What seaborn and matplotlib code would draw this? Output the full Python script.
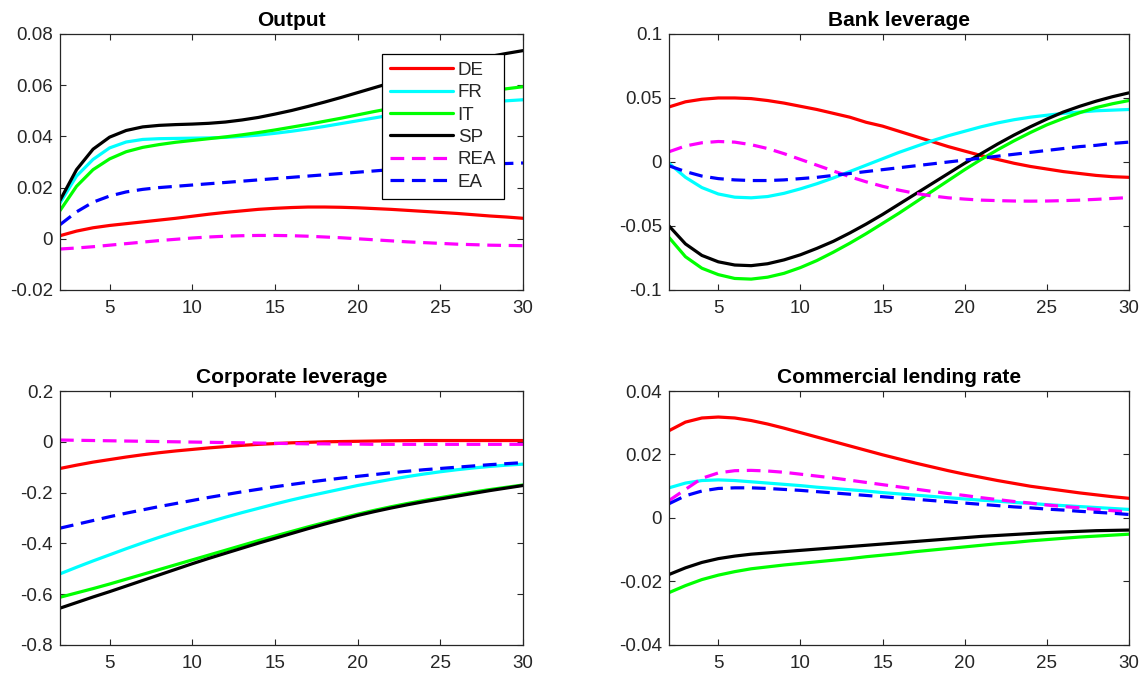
import numpy as np
import matplotlib
matplotlib.use('Agg')
import matplotlib.pyplot as plt
from matplotlib.ticker import FormatStrFormatter
import pandas as pd
import seaborn as sns

sns.set_theme(style='ticks', rc={'xtick.direction': 'in', 'ytick.direction': 'in'})
plt.rcParams['font.family'] = ['Liberation Sans', 'DejaVu Sans']

periods = list(range(2, 31))
countries = ['DE', 'FR', 'IT', 'SP', 'REA', 'EA']
colors = ['#FF0000', '#00FFFF', '#00FF00', '#000000', '#FF00FF', '#0000FF']

# Output
output_de = [0.0012, 0.0030, 0.0043, 0.0052, 0.0059, 0.0066, 0.0073, 0.0080, 0.0088, 0.0096,
             0.0103, 0.0109, 0.0115, 0.0119, 0.0122, 0.0124, 0.0124, 0.0123, 0.0121, 0.0118,
             0.0115, 0.0111, 0.0107, 0.0103, 0.0099, 0.0094, 0.0089, 0.0085, 0.0080]
output_fr = [0.0140, 0.0245, 0.0310, 0.0355, 0.0378, 0.0388, 0.0391, 0.0392, 0.0393, 0.0394,
             0.0396, 0.0400, 0.0405, 0.0412, 0.0420, 0.0429, 0.0439, 0.0450, 0.0461, 0.0472,
             0.0483, 0.0494, 0.0504, 0.0513, 0.0521, 0.0528, 0.0534, 0.0539, 0.0543]
output_it = [0.0110, 0.0205, 0.0270, 0.0312, 0.0340, 0.0357, 0.0368, 0.0377, 0.0384, 0.0391,
             0.0398, 0.0406, 0.0415, 0.0425, 0.0436, 0.0447, 0.0459, 0.0471, 0.0484, 0.0497,
             0.0509, 0.0522, 0.0534, 0.0546, 0.0557, 0.0567, 0.0577, 0.0586, 0.0594]
output_sp = [0.0150, 0.0270, 0.0350, 0.0397, 0.0423, 0.0437, 0.0443, 0.0446, 0.0448, 0.0451,
             0.0456, 0.0464, 0.0474, 0.0487, 0.0501, 0.0517, 0.0534, 0.0552, 0.0571, 0.0590,
             0.0609, 0.0628, 0.0647, 0.0665, 0.0682, 0.0698, 0.0712, 0.0724, 0.0735]
output_rea = [-0.0040, -0.0036, -0.0031, -0.0025, -0.0019, -0.0013, -0.0007, -0.0002, 0.0003, 0.0007,
              0.0010, 0.0012, 0.0013, 0.0013, 0.0012, 0.0010, 0.0007, 0.0004, 0.0000, -0.0004,
              -0.0008, -0.0012, -0.0015, -0.0018, -0.0021, -0.0023, -0.0025, -0.0026, -0.0027]
output_ea = [0.0055, 0.0105, 0.0143, 0.0167, 0.0183, 0.0193, 0.0200, 0.0205, 0.0210, 0.0215,
             0.0220, 0.0225, 0.0230, 0.0235, 0.0240, 0.0245, 0.0250, 0.0255, 0.0260, 0.0265,
             0.0270, 0.0274, 0.0278, 0.0282, 0.0286, 0.0289, 0.0292, 0.0294, 0.0296]

# Bank leverage
bank_de = [0.043, 0.047, 0.049, 0.050, 0.050, 0.0495, 0.048, 0.046, 0.0435, 0.041,
           0.038, 0.035, 0.031, 0.028, 0.024, 0.020, 0.016, 0.012, 0.0085, 0.005,
           0.002, -0.001, -0.0035, -0.0055, -0.0075, -0.009, -0.0105, -0.0115, -0.012]
bank_fr = [-0.001, -0.012, -0.020, -0.025, -0.0275, -0.028, -0.027, -0.0245, -0.021, -0.017,
           -0.0125, -0.0075, -0.0025, 0.0025, 0.0075, 0.012, 0.0165, 0.0205, 0.024, 0.0275,
           0.0305, 0.033, 0.035, 0.0365, 0.038, 0.039, 0.040, 0.0405, 0.041]
bank_it = [-0.059, -0.074, -0.083, -0.088, -0.091, -0.0915, -0.090, -0.087, -0.0825, -0.077,
           -0.0705, -0.0635, -0.056, -0.048, -0.040, -0.0315, -0.023, -0.0145, -0.006, 0.002,
           0.0095, 0.0165, 0.023, 0.029, 0.034, 0.0385, 0.0425, 0.0455, 0.048]
bank_sp = [-0.050, -0.064, -0.073, -0.078, -0.0805, -0.081, -0.0795, -0.0765, -0.0725, -0.0675,
           -0.062, -0.0555, -0.0485, -0.041, -0.033, -0.025, -0.017, -0.009, -0.001, 0.0065,
           0.014, 0.021, 0.0275, 0.0335, 0.039, 0.0435, 0.0475, 0.051, 0.054]
bank_rea = [0.008, 0.0125, 0.015, 0.016, 0.0155, 0.0135, 0.0105, 0.0065, 0.002, -0.0025,
            -0.007, -0.0115, -0.0155, -0.019, -0.022, -0.0245, -0.0265, -0.028, -0.029, -0.0298,
            -0.0302, -0.0305, -0.0306, -0.0305, -0.0302, -0.0298, -0.0292, -0.0285, -0.0278]
bank_ea = [-0.003, -0.0075, -0.011, -0.013, -0.014, -0.0145, -0.0145, -0.014, -0.013, -0.012,
           -0.0105, -0.009, -0.0075, -0.006, -0.0045, -0.003, -0.0015, 0.0, 0.0015, 0.003,
           0.0045, 0.006, 0.0075, 0.009, 0.0105, 0.012, 0.013, 0.0145, 0.0155]

# Corporate leverage
corp_de = [-0.105, -0.092, -0.080, -0.070, -0.060, -0.051, -0.043, -0.036, -0.030, -0.024,
           -0.019, -0.014, -0.010, -0.007, -0.004, -0.002, 0.0, 0.001, 0.002, 0.003,
           0.004, 0.0045, 0.005, 0.005, 0.005, 0.005, 0.005, 0.005, 0.005]
corp_fr = [-0.520, -0.494, -0.469, -0.445, -0.421, -0.398, -0.376, -0.355, -0.335, -0.316,
           -0.297, -0.279, -0.262, -0.245, -0.229, -0.214, -0.200, -0.186, -0.172, -0.160,
           -0.148, -0.137, -0.127, -0.118, -0.110, -0.103, -0.097, -0.092, -0.088]
corp_it = [-0.612, -0.595, -0.578, -0.560, -0.541, -0.522, -0.503, -0.484, -0.465, -0.446,
           -0.427, -0.408, -0.389, -0.371, -0.353, -0.335, -0.318, -0.301, -0.285, -0.270,
           -0.256, -0.243, -0.231, -0.220, -0.209, -0.198, -0.188, -0.179, -0.170]
corp_sp = [-0.655, -0.633, -0.611, -0.590, -0.568, -0.546, -0.524, -0.502, -0.480, -0.459,
           -0.439, -0.419, -0.399, -0.380, -0.361, -0.342, -0.324, -0.307, -0.290, -0.275,
           -0.261, -0.248, -0.236, -0.225, -0.214, -0.203, -0.192, -0.182, -0.172]
corp_rea = [0.007, 0.006, 0.005, 0.004, 0.003, 0.002, 0.001, 0.0, -0.001, -0.002,
            -0.003, -0.004, -0.005, -0.006, -0.007, -0.008, -0.008, -0.009, -0.009, -0.010,
            -0.010, -0.010, -0.010, -0.010, -0.010, -0.010, -0.010, -0.010, -0.010]
corp_ea = [-0.340, -0.325, -0.310, -0.295, -0.281, -0.268, -0.255, -0.243, -0.231, -0.219,
           -0.208, -0.197, -0.187, -0.177, -0.168, -0.159, -0.151, -0.143, -0.136, -0.129,
           -0.122, -0.116, -0.110, -0.105, -0.100, -0.095, -0.090, -0.086, -0.082]

# Commercial lending rate
rate_de = [0.0275, 0.0302, 0.0315, 0.0318, 0.0315, 0.0307, 0.0296, 0.0283, 0.0269, 0.0255,
           0.0241, 0.0227, 0.0213, 0.0199, 0.0186, 0.0173, 0.0161, 0.0149, 0.0138, 0.0128,
           0.0118, 0.0109, 0.0100, 0.0093, 0.0086, 0.0079, 0.0073, 0.0067, 0.0062]
rate_fr = [0.0095, 0.0110, 0.0118, 0.0120, 0.0118, 0.0114, 0.0110, 0.0106, 0.0102, 0.0097,
           0.0093, 0.0089, 0.0085, 0.0080, 0.0076, 0.0072, 0.0068, 0.0064, 0.0060, 0.0056,
           0.0053, 0.0049, 0.0046, 0.0042, 0.0039, 0.0036, 0.0033, 0.0030, 0.0027]
rate_it = [-0.0235, -0.0213, -0.0194, -0.0180, -0.0169, -0.0160, -0.0154, -0.0148, -0.0143, -0.0138,
           -0.0133, -0.0128, -0.0122, -0.0117, -0.0112, -0.0106, -0.0101, -0.0096, -0.0091, -0.0086,
           -0.0081, -0.0077, -0.0072, -0.0068, -0.0064, -0.0060, -0.0057, -0.0054, -0.0051]
rate_sp = [-0.0178, -0.0157, -0.0140, -0.0128, -0.0120, -0.0114, -0.0110, -0.0106, -0.0102, -0.0098,
           -0.0094, -0.0090, -0.0086, -0.0082, -0.0078, -0.0074, -0.0070, -0.0066, -0.0062, -0.0058,
           -0.0055, -0.0052, -0.0049, -0.0046, -0.0044, -0.0042, -0.0040, -0.0039, -0.0038]
rate_rea = [0.0055, 0.0090, 0.0125, 0.0142, 0.0149, 0.0150, 0.0148, 0.0144, 0.0138, 0.0132,
            0.0126, 0.0119, 0.0112, 0.0105, 0.0098, 0.0091, 0.0084, 0.0077, 0.0071, 0.0064,
            0.0058, 0.0052, 0.0047, 0.0041, 0.0036, 0.0032, 0.0027, 0.0023, 0.0019]
rate_ea = [0.0045, 0.0070, 0.0085, 0.0093, 0.0095, 0.0095, 0.0093, 0.0090, 0.0087, 0.0083,
           0.0079, 0.0075, 0.0071, 0.0067, 0.0063, 0.0059, 0.0055, 0.0051, 0.0047, 0.0043,
           0.0039, 0.0035, 0.0032, 0.0028, 0.0025, 0.0021, 0.0018, 0.0015, 0.0011]

panels = [
    ('Output', [output_de, output_fr, output_it, output_sp, output_rea, output_ea],
     (-0.02, 0.08), 0.02),
    ('Bank leverage', [bank_de, bank_fr, bank_it, bank_sp, bank_rea, bank_ea],
     (-0.1, 0.1), 0.05),
    ('Corporate leverage', [corp_de, corp_fr, corp_it, corp_sp, corp_rea, corp_ea],
     (-0.8, 0.2), 0.2),
    ('Commercial lending rate', [rate_de, rate_fr, rate_it, rate_sp, rate_rea, rate_ea],
     (-0.04, 0.04), 0.02),
]

dash = (4.3, 2.4)
dashes = {'DE': '', 'FR': '', 'IT': '', 'SP': '', 'REA': dash, 'EA': dash}
palette = dict(zip(countries, colors))

fig = plt.figure(figsize=(11.45, 6.78), dpi=100)
positions = [
    [0.0524, 0.5723, 0.4044, 0.3776],
    [0.5843, 0.5723, 0.4017, 0.3776],
    [0.0524, 0.0487, 0.4044, 0.3746],
    [0.5843, 0.0487, 0.4017, 0.3746],
]

for i, (title, series, ylim, ystep) in enumerate(panels):
    ax = fig.add_axes(positions[i])
    df = pd.concat([pd.DataFrame({'t': periods, 'value': vals, 'country': name})
                    for name, vals in zip(countries, series)], ignore_index=True)
    sns.lineplot(data=df, x='t', y='value', hue='country', style='country',
                 palette=palette, dashes=dashes, linewidth=2.3,
                 errorbar=None, legend=False, ax=ax)
    ax.set_xlim(2, 30)
    ax.set_ylim(*ylim)
    ax.set_xticks([5, 10, 15, 20, 25, 30])
    # round and add 0.0 so the zero tick prints as "0" not "-0"
    yticks = np.round(np.arange(ylim[0], ylim[1] + ystep / 2, ystep), 6) + 0.0
    ax.set_yticks(yticks)
    ax.yaxis.set_major_formatter(FormatStrFormatter('%g'))
    ax.set_xlabel('')
    ax.set_ylabel('')
    ax.set_title(title, fontsize=15, fontweight='bold', pad=6, color='black')
    ax.tick_params(axis='both', which='both', direction='in', top=True, right=True,
                   length=4, width=0.8, colors='#262626', labelsize=13.5)
    ax.tick_params(axis='x', pad=7)
    ax.tick_params(axis='y', pad=5)
    for sp in ax.spines.values():
        sp.set_visible(True)
        sp.set_color('#262626')
        sp.set_linewidth(0.9)
    if i == 0:
        leg = ax.legend(handles=ax.get_lines()[:len(countries)], labels=countries,
                        loc='upper right', bbox_to_anchor=(0.959, 0.922),
                        borderaxespad=0, frameon=True, fancybox=False,
                        fontsize=13.5, handlelength=3.35, labelspacing=0.28,
                        handletextpad=0.25, borderpad=0.42)
        leg.get_frame().set_edgecolor('#000000')
        leg.get_frame().set_linewidth(0.9)
        leg.get_frame().set_alpha(1)

fig.savefig('out.png', dpi=100)
